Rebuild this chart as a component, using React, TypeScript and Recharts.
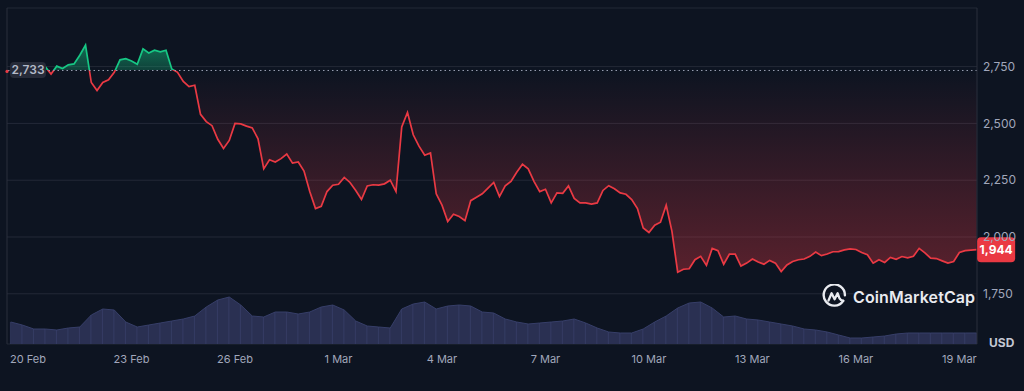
import React from "react";
import {
  ComposedChart,
  Area,
  Bar,
  XAxis,
  YAxis,
  CartesianGrid,
  ReferenceLine,
  ReferenceDot,
} from "recharts";

// Time axis: days from 20 Feb 00:00, one price sample every 4 hours
const START_DAY = -0.5;
const STEP_DAYS = 1 / 6;
const X_MIN = -0.61;
const X_MAX = 27.51;

const PRICE: number[] = [
  2740, 2745, 2738, 2742, 2740, 2745, 2750, 2717, 2752, 2742,
  2758, 2762, 2800, 2845, 2680, 2645, 2680, 2692, 2725, 2780,
  2785, 2775, 2760, 2828, 2810, 2822, 2815, 2822, 2740, 2725,
  2685, 2662, 2668, 2540, 2508, 2490, 2430, 2390, 2425, 2500,
  2498, 2488, 2480, 2432, 2300, 2340, 2330, 2345, 2365, 2325,
  2330, 2290, 2200, 2125, 2135, 2200, 2228, 2232, 2262, 2240,
  2205, 2165, 2225, 2230, 2228, 2234, 2250, 2200, 2484, 2548,
  2450, 2400, 2360, 2370, 2190, 2140, 2068, 2100, 2090, 2072,
  2160, 2175, 2190, 2215, 2240, 2178, 2225, 2245, 2285, 2320,
  2300, 2245, 2200, 2210, 2150, 2194, 2192, 2225, 2170, 2150,
  2150, 2145, 2150, 2205, 2226, 2212, 2194, 2188, 2165, 2125,
  2040, 2020, 2052, 2065, 2140, 2025, 1845, 1858, 1860, 1900,
  1915, 1875, 1950, 1940, 1880, 1925, 1925, 1872, 1885, 1903,
  1890, 1880, 1897, 1885, 1848, 1877, 1892, 1900, 1903, 1915,
  1934, 1918, 1925, 1935, 1936, 1943, 1948, 1945, 1932, 1922,
  1885, 1900, 1888, 1910, 1902, 1914, 1908, 1915, 1950, 1930,
  1907, 1905, 1895, 1885, 1892, 1932, 1940, 1942, 1944,
];

// Volume (USD millions), one sample every 8 hours
const VOLUME: number[] = [
  1100, 950, 750, 750, 700, 800, 850, 1450, 1750, 1700,
  1100, 850, 950, 1050, 1150, 1250, 1400, 1850, 2200, 2350,
  1950, 1400, 1350, 1600, 1600, 1500, 1600, 1850, 1950, 1700,
  1150, 900, 850, 800, 1750, 2000, 2100, 1750, 1900, 1950,
  1900, 1600, 1550, 1250, 1100, 1000, 1050, 1100, 1150, 1250,
  1050, 800, 600, 550, 550, 750, 1100, 1400, 1800, 2050,
  2100, 1800, 1350, 1400, 1250, 1200, 1100, 1000, 900, 750,
  700, 600, 450, 300, 300, 350, 400, 500, 550, 550,
  550, 550, 550, 550, 550,
];

const TICK_DAYS = [0, 3, 6, 9, 12, 15, 18, 21, 24, 27];
const TICK_LABELS = [
  "20 Feb", "23 Feb", "26 Feb", "1 Mar", "4 Mar",
  "7 Mar", "10 Mar", "13 Mar", "16 Mar", "19 Mar",
];
const PRICE_TICKS = [1750, 2000, 2250, 2500, 2750];
const OPEN_PRICE = 2733;

const data = PRICE.map((p, i) => ({
  t: START_DAY + i * STEP_DAYS,
  price: p,
  volume: i % 2 === 0 ? VOLUME[i / 2] : null,
}));

const maxP = Math.max(...PRICE);
const minP = Math.min(...PRICE);
const splitOff = (maxP - OPEN_PRICE) / (maxP - minP);
const lastPoint = data[data.length - 1];

const GREEN = "#16c784";
const RED = "#ea3943";
const BG = "#0d1421";
const AXIS_TEXT = "#a1a7bb";
const FONT = "Inter, 'Noto Sans', sans-serif";

const fmt = (v: number) => v.toLocaleString("en-US");

const OpenLabel = (props: any) => {
  const { cx, cy } = props;
  if (cx == null || cy == null) return null;
  return (
    <g>
      <circle cx={cx} cy={cy + 1} r={1.6} fill={RED} />
      <rect x={cx + 3} y={cy - 8.5} width={36} height={16} rx={4} fill="#262b39" />
      <text
        x={cx + 21}
        y={cy + 4}
        textAnchor="middle"
        fill="#b4bac8"
        fontSize={12}
        fontWeight={600}
        fontFamily={FONT}
      >
        {fmt(OPEN_PRICE)}
      </text>
    </g>
  );
};

const LastLabel = (props: any) => {
  const { cx, cy } = props;
  if (cx == null || cy == null) return null;
  return (
    <g>
      <rect x={cx + 0.5} y={cy - 12.5} width={38} height={25} rx={4} fill={RED} />
      <text
        x={cx + 19.5}
        y={cy + 4.5}
        textAnchor="middle"
        fill="#ffffff"
        fontSize={12}
        fontWeight={700}
        fontFamily={FONT}
      >
        {fmt(lastPoint.price)}
      </text>
    </g>
  );
};

export default function App() {
  return (
    <div
      style={{
        position: "absolute",
        left: 0,
        top: 0,
        width: 1024,
        height: 391,
        background: BG,
        overflow: "hidden",
        fontFamily: FONT,
      }}
    >
      <ComposedChart
        width={1024}
        height={391}
        data={data}
        margin={{ top: 8, right: 0, bottom: 0, left: 7 }}
      >
        <defs>
          <linearGradient id="priceStroke" x1="0" y1="0" x2="0" y2="1">
            <stop offset={0} stopColor={GREEN} />
            <stop offset={splitOff} stopColor={GREEN} />
            <stop offset={splitOff} stopColor={RED} />
            <stop offset={1} stopColor={RED} />
          </linearGradient>
          <linearGradient id="priceFill" x1="0" y1="0" x2="0" y2="1">
            <stop offset={0} stopColor={GREEN} stopOpacity={0.5} />
            <stop offset={splitOff} stopColor={GREEN} stopOpacity={0.25} />
            <stop offset={splitOff} stopColor={RED} stopOpacity={0.0} />
            <stop offset={1} stopColor={RED} stopOpacity={0.34} />
          </linearGradient>
        </defs>
        <CartesianGrid yAxisId="price" vertical={false} stroke="#232937" />
        <XAxis
          dataKey="t"
          type="number"
          domain={[X_MIN, X_MAX]}
          allowDataOverflow
          ticks={TICK_DAYS}
          interval={0}
          tickFormatter={(v: number) => TICK_LABELS[TICK_DAYS.indexOf(v)] ?? ""}
          height={47}
          axisLine={false}
          tickLine={false}
          tickSize={0}
          tickMargin={11}
          tick={{ fill: AXIS_TEXT, fontSize: 11, fontFamily: FONT }}
        />
        <YAxis
          yAxisId="price"
          orientation="right"
          type="number"
          width={47}
          domain={[1529, 3008]}
          allowDataOverflow
          ticks={PRICE_TICKS}
          interval={0}
          tickFormatter={fmt}
          axisLine={{ stroke: "#2a2f3d" }}
          tickLine={false}
          tickSize={0}
          tickMargin={6}
          tick={{ fill: AXIS_TEXT, fontSize: 12, fontFamily: FONT }}
        />
        <YAxis yAxisId="vol" hide domain={[0, 16800]} allowDataOverflow />
        <ReferenceLine yAxisId="price" x={X_MIN} stroke="#2a2f3d" />
        <Area
          yAxisId="vol"
          dataKey="volume"
          type="linear"
          connectNulls
          stroke="#363e68"
          strokeWidth={1}
          fill="#2a3052"
          fillOpacity={1}
          dot={false}
          activeDot={false}
          isAnimationActive={false}
        />
        <Bar
          yAxisId="vol"
          dataKey="volume"
          barSize={1}
          fill="#3a426c"
          fillOpacity={0.7}
          isAnimationActive={false}
        />
        <ReferenceLine
          yAxisId="price"
          y={OPEN_PRICE}
          stroke="#9aa0b2"
          strokeDasharray="1.5 3"
          strokeWidth={1}
        />
        <Area
          yAxisId="price"
          dataKey="price"
          type="linear"
          baseValue={OPEN_PRICE}
          stroke="url(#priceStroke)"
          strokeWidth={1.7}
          fill="url(#priceFill)"
          fillOpacity={1}
          dot={false}
          activeDot={false}
          isAnimationActive={false}
        />
        <ReferenceDot
          yAxisId="price"
          x={X_MIN}
          y={OPEN_PRICE}
          shape={OpenLabel}
        />
        <ReferenceDot
          yAxisId="price"
          x={lastPoint.t}
          y={lastPoint.price}
          shape={LastLabel}
        />
      </ComposedChart>

      <div
        style={{
          position: "absolute",
          left: 989,
          top: 335,
          fontSize: 12,
          fontWeight: 700,
          color: "#c3c8d4",
          fontFamily: FONT,
        }}
      >
        USD
      </div>

      <div
        style={{
          position: "absolute",
          left: 822,
          top: 284,
          display: "flex",
          alignItems: "center",
          gap: 6,
          color: "#e9ebf0",
          fontFamily: FONT,
        }}
      >
        <svg width={25} height={25} viewBox="0 0 25 25">
          <path
            d="M21.2 16.8 A10.6 10.6 0 1 1 22.9 11.2"
            stroke="#e9ebf0"
            strokeWidth={2.4}
            fill="none"
            strokeLinecap="round"
          />
          <path
            d="M6.5 16.5 L9.6 9.2 L12.6 15.2 L15.6 9.2 L17.6 14.6 Q18.6 16.6 21.2 16.8"
            stroke="#e9ebf0"
            strokeWidth={2.3}
            fill="none"
            strokeLinejoin="round"
            strokeLinecap="round"
          />
        </svg>
        <span style={{ fontSize: 16, fontWeight: 600, letterSpacing: 0.1 }}>
          CoinMarketCap
        </span>
      </div>
    </div>
  );
}
